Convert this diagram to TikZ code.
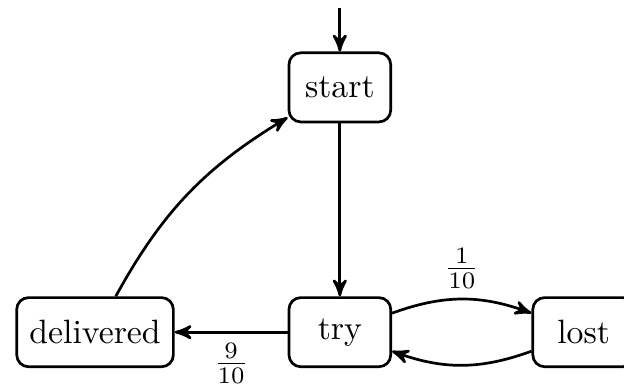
\documentclass[tikz,border=0pt]{standalone}
\usepackage{amsmath}
\usepackage{tikz}
\usetikzlibrary{arrows}
\def\statenode{\node[draw=black,thick,rounded corners=3.5pt,inner xsep=3.75pt,minimum width=1.06cm,minimum height=0.72cm]}
\def\drawtrans{\draw[->,>=stealth',thick]}

\begin{document}
\begin{tikzpicture}[auto,inner sep=1mm]
\useasboundingbox (0,0) rectangle (6.5,-4.0625);
\coordinate (init) at (3.54,-0.08);
\statenode (start) at (3.54,-0.91) {start};
\statenode (try) at (3.54,-3.46) {try};
\statenode (delivered) at (0.99,-3.46) {delivered};
\statenode (lost) at (6.08,-3.46) {lost};
\drawtrans (init) -- (start);
\drawtrans (start) -- (try);
\drawtrans (try) to node {$\frac{9}{10}$} (delivered);
\drawtrans (try) to[bend left=20] node {$\frac{1}{10}$} (lost);
\drawtrans (lost) to[bend left=20] (try);
\drawtrans (delivered) to[bend left=15] (start);
\end{tikzpicture}
\end{document}
